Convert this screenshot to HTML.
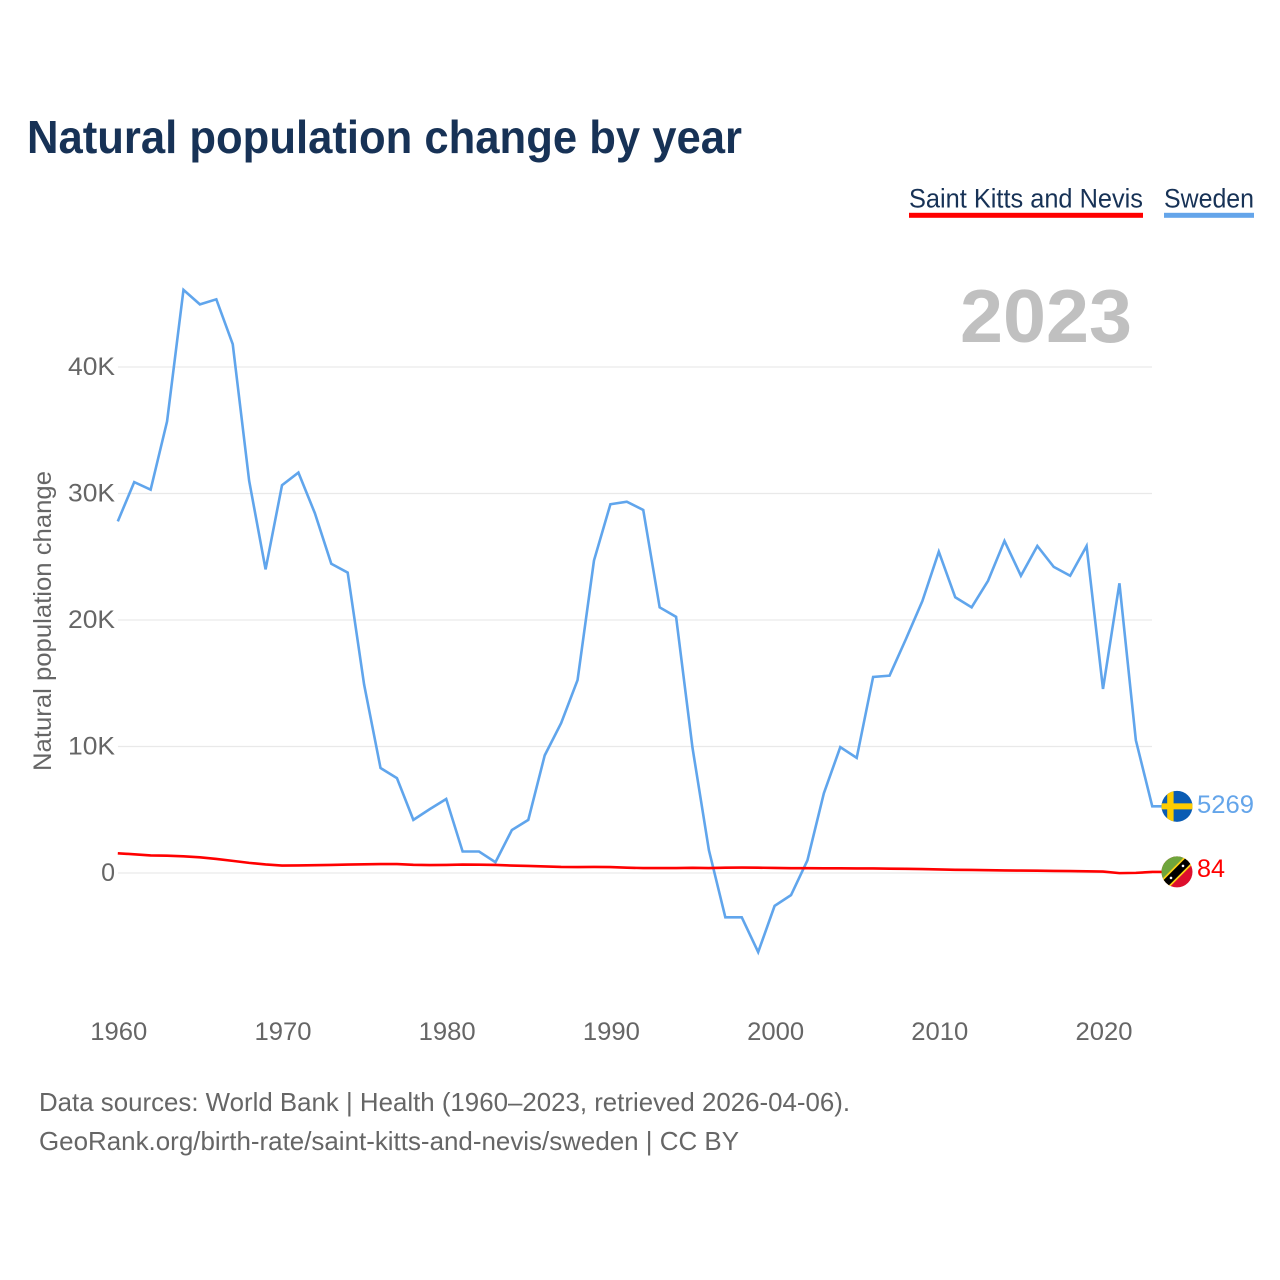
<!DOCTYPE html>
<html lang="en">
<head>
<meta charset="utf-8">
<title>Natural population change by year</title>
<style>
html,body{margin:0;padding:0;background:#fff;}
svg{display:block;font-family:"Liberation Sans",sans-serif;}
</style>
</head>
<body>
<svg id="chart" xmlns="http://www.w3.org/2000/svg" width="1280" height="1280" viewBox="0 0 1280 1280">
  <rect width="1280" height="1280" fill="#fff"/>
  <text x="27" y="153" font-size="46" font-weight="700" fill="#173256" textLength="715" lengthAdjust="spacingAndGlyphs">Natural population change by year</text>

  <g>
    <text x="909" y="207.5" font-size="27" fill="#173256" textLength="234" lengthAdjust="spacingAndGlyphs">Saint Kitts and Nevis</text>
    <rect x="909" y="212.8" width="234" height="5" fill="#ff0000"/>
  </g>
  <g>
    <text x="1164" y="207.5" font-size="27" fill="#173256" textLength="90" lengthAdjust="spacingAndGlyphs">Sweden</text>
    <rect x="1164" y="212.8" width="90" height="5" fill="#64a5ea"/>
  </g>

  <text x="1132" y="342" font-size="75" font-weight="700" fill="#c0c0c0" text-anchor="end" textLength="172" lengthAdjust="spacingAndGlyphs">2023</text>

  <g id="grid"></g>
  <g id="yticks"></g>
  <g id="xticks"></g>
  <text transform="translate(51 621) rotate(-90)" font-size="25" fill="#666" text-anchor="middle" textLength="300" lengthAdjust="spacingAndGlyphs">Natural population change</text>

  <g id="series"></g>

  <g id="end-sweden">
    <clipPath id="clip-se"><circle cx="0" cy="0" r="15.5"/></clipPath>
    <g clip-path="url(#clip-se)">
      <rect x="-16" y="-16" width="32" height="32" fill="#0b5cb3"/>
      <rect x="-9.8" y="-16" width="6.4" height="32" fill="#fecc00"/>
      <rect x="-16" y="-3" width="32" height="6" fill="#fecc00"/>
    </g>
  </g>
  <g id="end-skn">
    <clipPath id="clip-kn"><circle cx="0" cy="0" r="15.5"/></clipPath>
    <g clip-path="url(#clip-kn)">
      <rect x="-16" y="-16" width="32" height="32" fill="#dd0f2d"/>
      <polygon points="-16,16 -16,-16 16,-16" fill="#6fa53c"/>
      <line x1="-17" y1="17" x2="17" y2="-17" stroke="#fcd116" stroke-width="11"/>
      <line x1="-17" y1="17" x2="17" y2="-17" stroke="#000" stroke-width="7.5"/>
      <circle cx="-6" cy="6" r="1.3" fill="#fff"/>
      <circle cx="6" cy="-6" r="1.3" fill="#fff"/>
    </g>
  </g>
  <text id="label-se" font-size="25" fill="#64a5ea" textLength="57" lengthAdjust="spacingAndGlyphs"></text>
  <text id="label-kn" font-size="25" fill="#ff0000" textLength="28" lengthAdjust="spacingAndGlyphs"></text>

  <text x="39" y="1111" font-size="26" fill="#666" textLength="811" lengthAdjust="spacingAndGlyphs">Data sources: World Bank | Health (1960–2023, retrieved 2026-04-06).</text>
  <text x="39" y="1150" font-size="26" fill="#666" textLength="700" lengthAdjust="spacingAndGlyphs">GeoRank.org/birth-rate/saint-kitts-and-nevis/sweden | CC BY</text>
</svg>
<script>
const startYear = 1960;
const swedenValues = [27800,30900,30300,35700,46100,44950,45350,41800,31000,24000,30650,31650,28450,24450,23750,14900,8300,7500,4200,5050,5850,1700,1700,850,3400,4200,9300,11850,15250,24700,29150,29350,28700,21000,20250,9900,1800,-3500,-3500,-6250,-2600,-1750,1000,6300,9950,9100,15500,15600,18500,21500,25400,21800,21000,23100,26250,23500,25850,24200,23500,25850,14550,22900,10500,5269];
const kittsValues = [1560,1480,1390,1370,1320,1240,1110,960,800,680,590,600,620,640,670,690,710,710,650,630,640,670,660,640,590,560,520,480,470,480,470,420,390,390,390,410,390,420,430,420,400,380,380,370,370,360,360,340,330,310,280,250,240,220,200,190,180,160,150,130,110,-10,10,84];
const xTickYears = [1960,1970,1980,1990,2000,2010,2020];
const yTickValues = [0,10000,20000,30000,40000];
const yTickLabels = ['0','10K','20K','30K','40K'];

const NS = 'http://www.w3.org/2000/svg';
function xScale(year){ return 117.8 + (year - 1960) * 16.42; }
function yScale(value){ return 873 - value * 0.01265; }
function make(tag, attrs, parent){
  const el = document.createElementNS(NS, tag);
  for (const k in attrs) el.setAttribute(k, attrs[k]);
  parent.appendChild(el);
  return el;
}
const grid = document.getElementById('grid');
const yticks = document.getElementById('yticks');
const xticks = document.getElementById('xticks');
const series = document.getElementById('series');

yTickValues.forEach(function(v, i){
  const y = yScale(v);
  const line = make('line', {x1:118, x2:1152, y1:y, y2:y, stroke:'#e9e9e9', 'stroke-width':1.3}, grid);
  
  
  const attrs = {x:115, y:y + 8, 'font-size':25, fill:'#666', 'text-anchor':'end'};
  if (yTickLabels[i].length === 3) { attrs.textLength = 47; attrs.lengthAdjust = 'spacingAndGlyphs'; }
  const t = make('text', attrs, yticks);
  
  
  t.textContent = yTickLabels[i];
});
xTickYears.forEach(function(yr){
  const t = make('text', {x:xScale(yr) + 1, y:1040, 'font-size':25, fill:'#666', 'text-anchor':'middle', textLength:57, lengthAdjust:'spacingAndGlyphs'}, xticks);
  
  
  t.textContent = yr;
});
function drawSeries(values, color, width){
  const pts = values.map(function(v, i){ return xScale(startYear + i).toFixed(2) + ',' + yScale(v).toFixed(2); });
  const lastY = yScale(values[values.length - 1]).toFixed(2);
  pts.push('1162,' + lastY);
  return make('polyline', {points:pts.join(' '), fill:'none', stroke:color, 'stroke-width':width, 'stroke-linejoin':'miter'}, series);
}
const swedenLine = drawSeries(swedenValues, '#60a5ec', 2.6);


const kittsLine = drawSeries(kittsValues, '#ff0000', 2.6);



const seVal = swedenValues[swedenValues.length - 1];
const knVal = kittsValues[kittsValues.length - 1];
document.getElementById('end-sweden').setAttribute('transform', 'translate(1177 ' + yScale(seVal) + ')');
document.getElementById('end-skn').setAttribute('transform', 'translate(1177 ' + yScale(knVal) + ')');
const ls = document.getElementById('label-se');
ls.setAttribute('x', 1197);
ls.setAttribute('y', yScale(seVal) + 6.5);
ls.textContent = seVal;
const lk = document.getElementById('label-kn');
lk.setAttribute('x', 1197);
lk.setAttribute('y', yScale(knVal) + 5);
lk.textContent = knVal;
</script>
</body>
</html>
